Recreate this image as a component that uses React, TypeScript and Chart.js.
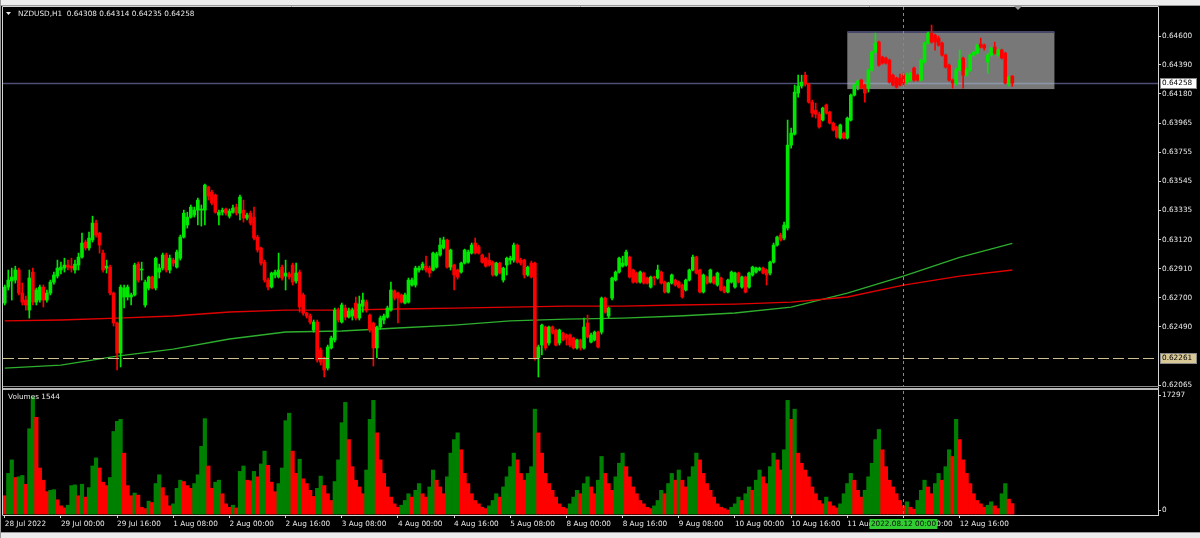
import React, { useEffect, useRef } from "react";
import { Chart, registerables } from "chart.js";
Chart.register(...registerables);

const SYMBOL_TITLE = "NZDUSD,H1  0.64308 0.64314 0.64235 0.64258";
const VOLUME_TITLE = "Volumes 1544";

const OPEN = [
  0.62661, 0.62777, 0.62821, 0.62828, 0.62901, 0.62734, 0.62683, 0.62610, 0.62886, 0.62668, 0.62683, 0.62777, 0.62683, 0.62734, 0.62813, 0.62857,
  0.62901, 0.62915, 0.62937, 0.62929, 0.62901, 0.62937, 0.62995, 0.63104, 0.63061, 0.63119, 0.63242, 0.63169, 0.63024, 0.62915, 0.62922, 0.62734,
  0.62516, 0.62298, 0.62705, 0.62705, 0.62705, 0.62720, 0.62944, 0.62901, 0.62647, 0.62770, 0.62850, 0.62770, 0.62886, 0.62915, 0.63010, 0.62901,
  0.62973, 0.62922, 0.62987, 0.63140, 0.63228, 0.63285, 0.63300, 0.63336, 0.63336, 0.63336, 0.63503, 0.63467, 0.63446, 0.63300, 0.63321, 0.63344,
  0.63292, 0.63321, 0.63358, 0.63314, 0.63336, 0.63278, 0.63314, 0.63285, 0.63140, 0.63061, 0.62958, 0.62828, 0.62777, 0.62865, 0.62850, 0.62922,
  0.62857, 0.62872, 0.62937, 0.62821, 0.62886, 0.62720, 0.62588, 0.62567, 0.62465, 0.62523, 0.62320, 0.62262, 0.62189, 0.62335, 0.62393, 0.62610,
  0.62523, 0.62625, 0.62559, 0.62567, 0.62661, 0.62552, 0.62639, 0.62668, 0.62574, 0.62516, 0.62335, 0.62487, 0.62538, 0.62559, 0.62610, 0.62749,
  0.62734, 0.62720, 0.62661, 0.62668, 0.62792, 0.62792, 0.62901, 0.62915, 0.62929, 0.62915, 0.62901, 0.62922, 0.63010, 0.63061, 0.63119, 0.62922,
  0.62937, 0.62901, 0.62886, 0.62951, 0.62958, 0.63024, 0.63097, 0.63068, 0.63010, 0.62987, 0.62973, 0.62958, 0.62865, 0.62951, 0.62828, 0.62937,
  0.62973, 0.62973, 0.63082, 0.62973, 0.62973, 0.62865, 0.62951, 0.62951, 0.62262, 0.62356, 0.62487, 0.62371, 0.62487, 0.62465, 0.62371, 0.62443,
  0.62429, 0.62429, 0.62407, 0.62335, 0.62393, 0.62335, 0.62516, 0.62378, 0.62393, 0.62450, 0.62450, 0.62697, 0.62567, 0.62697, 0.62828, 0.62886,
  0.62929, 0.62937, 0.62995, 0.62901, 0.62879, 0.62813, 0.62879, 0.62843, 0.62777, 0.62850, 0.62843, 0.62886, 0.62813, 0.62741, 0.62806, 0.62828,
  0.62813, 0.62792, 0.62756, 0.62828, 0.62901, 0.62995, 0.62901, 0.62741, 0.62850, 0.62813, 0.62850, 0.62792, 0.62843, 0.62777, 0.62741, 0.62813,
  0.62777, 0.62879, 0.62777, 0.62850, 0.62777, 0.62865, 0.62886, 0.62901, 0.62915, 0.62901, 0.62879, 0.62958, 0.63082, 0.63155, 0.63133, 0.63206,
  0.63808, 0.63888, 0.64186, 0.64237, 0.64316, 0.64251, 0.64120, 0.64062, 0.64033, 0.63990, 0.64099, 0.64048, 0.63968, 0.63939, 0.63859, 0.63895,
  0.63859, 0.63990, 0.64171, 0.64244, 0.64280, 0.64244, 0.64222, 0.64353, 0.64483, 0.64556, 0.64447, 0.64440, 0.64425, 0.64316, 0.64295, 0.64295,
  0.64316, 0.64266, 0.64280, 0.64367, 0.64316, 0.64280, 0.64411, 0.64549, 0.64621, 0.64607, 0.64585, 0.64549, 0.64462, 0.64389, 0.64280, 0.64258,
  0.64353, 0.64440, 0.64316, 0.64353, 0.64462, 0.64476, 0.64542, 0.64534, 0.64411, 0.64462, 0.64520, 0.64462, 0.64498, 0.64476, 0.64258, 0.64308,
];

const HIGH = [
  0.62792, 0.62901, 0.62915, 0.62929, 0.62915, 0.62806, 0.62712, 0.62901, 0.62915, 0.62770, 0.62792, 0.62792, 0.62756, 0.62828, 0.62886, 0.62973,
  0.62958, 0.62987, 0.62973, 0.62987, 0.62973, 0.63024, 0.63169, 0.63119, 0.63176, 0.63292, 0.63264, 0.63176, 0.63046, 0.62973, 0.62937, 0.62741,
  0.62523, 0.62792, 0.62792, 0.62792, 0.62734, 0.62951, 0.62958, 0.62958, 0.62828, 0.62857, 0.62857, 0.62995, 0.62944, 0.63024, 0.63024, 0.63010,
  0.62987, 0.63046, 0.63155, 0.63336, 0.63321, 0.63373, 0.63358, 0.63424, 0.63373, 0.63525, 0.63510, 0.63482, 0.63453, 0.63336, 0.63351, 0.63351,
  0.63344, 0.63373, 0.63380, 0.63446, 0.63409, 0.63314, 0.63329, 0.63358, 0.63155, 0.63068, 0.62973, 0.62843, 0.62886, 0.62901, 0.63024, 0.62937,
  0.62973, 0.62886, 0.62951, 0.62951, 0.62901, 0.62734, 0.62595, 0.62581, 0.62538, 0.62538, 0.62335, 0.62269, 0.62356, 0.62421, 0.62625, 0.62625,
  0.62661, 0.62647, 0.62625, 0.62625, 0.62705, 0.62712, 0.62734, 0.62683, 0.62581, 0.62523, 0.62494, 0.62567, 0.62581, 0.62639, 0.62813, 0.62756,
  0.62741, 0.62727, 0.62734, 0.62843, 0.62843, 0.62929, 0.62929, 0.62958, 0.63002, 0.62929, 0.63031, 0.63031, 0.63133, 0.63140, 0.63126, 0.63053,
  0.62944, 0.62908, 0.62958, 0.63053, 0.63046, 0.63097, 0.63133, 0.63082, 0.63017, 0.62995, 0.63024, 0.62966, 0.62958, 0.62958, 0.62922, 0.62995,
  0.63002, 0.63097, 0.63090, 0.62987, 0.62980, 0.62929, 0.62966, 0.62958, 0.62356, 0.62509, 0.62494, 0.62494, 0.62494, 0.62472, 0.62472, 0.62450,
  0.62436, 0.62436, 0.62414, 0.62400, 0.62400, 0.62552, 0.62574, 0.62443, 0.62458, 0.62458, 0.62705, 0.62705, 0.62632, 0.62850, 0.62894, 0.62995,
  0.63002, 0.63046, 0.63002, 0.62908, 0.62886, 0.62894, 0.62886, 0.62850, 0.62857, 0.62857, 0.62937, 0.62894, 0.62821, 0.62813, 0.62872, 0.62835,
  0.62821, 0.62799, 0.62835, 0.62908, 0.63010, 0.63002, 0.62908, 0.62872, 0.62857, 0.62908, 0.62857, 0.62886, 0.62850, 0.62784, 0.62835, 0.62894,
  0.62886, 0.62886, 0.62857, 0.62857, 0.62886, 0.62929, 0.62922, 0.62922, 0.62922, 0.62908, 0.62966, 0.63097, 0.63148, 0.63169, 0.63249, 0.63990,
  0.63931, 0.64244, 0.64316, 0.64316, 0.64338, 0.64258, 0.64135, 0.64113, 0.64048, 0.64084, 0.64106, 0.64055, 0.63975, 0.63946, 0.63961, 0.63903,
  0.64012, 0.64179, 0.64251, 0.64280, 0.64287, 0.64251, 0.64360, 0.64491, 0.64621, 0.64563, 0.64454, 0.64447, 0.64433, 0.64324, 0.64302, 0.64324,
  0.64331, 0.64331, 0.64338, 0.64374, 0.64324, 0.64433, 0.64556, 0.64629, 0.64680, 0.64614, 0.64600, 0.64556, 0.64469, 0.64396, 0.64287, 0.64367,
  0.64498, 0.64447, 0.64367, 0.64469, 0.64491, 0.64542, 0.64585, 0.64542, 0.64476, 0.64520, 0.64556, 0.64505, 0.64505, 0.64483, 0.64309, 0.64314,
];

const LOW = [
  0.62647, 0.62756, 0.62683, 0.62806, 0.62720, 0.62647, 0.62610, 0.62552, 0.62647, 0.62647, 0.62668, 0.62632, 0.62668, 0.62720, 0.62799, 0.62843,
  0.62872, 0.62886, 0.62901, 0.62886, 0.62879, 0.62901, 0.62987, 0.63046, 0.63046, 0.63104, 0.63140, 0.63024, 0.62886, 0.62879, 0.62720, 0.62494,
  0.62175, 0.62197, 0.62625, 0.62683, 0.62647, 0.62712, 0.62813, 0.62828, 0.62632, 0.62756, 0.62763, 0.62756, 0.62843, 0.62901, 0.62886, 0.62879,
  0.62929, 0.62915, 0.62973, 0.63133, 0.63206, 0.63278, 0.63285, 0.63228, 0.63220, 0.63228, 0.63409, 0.63373, 0.63314, 0.63228, 0.63300, 0.63300,
  0.63278, 0.63314, 0.63300, 0.63264, 0.63249, 0.63264, 0.63228, 0.63119, 0.63031, 0.62937, 0.62813, 0.62756, 0.62770, 0.62843, 0.62843, 0.62828,
  0.62756, 0.62835, 0.62792, 0.62806, 0.62595, 0.62574, 0.62552, 0.62509, 0.62450, 0.62232, 0.62211, 0.62124, 0.62175, 0.62327, 0.62378, 0.62523,
  0.62516, 0.62538, 0.62552, 0.62538, 0.62538, 0.62538, 0.62595, 0.62595, 0.62450, 0.62204, 0.62262, 0.62472, 0.62509, 0.62552, 0.62603, 0.62683,
  0.62516, 0.62661, 0.62654, 0.62661, 0.62784, 0.62777, 0.62886, 0.62901, 0.62886, 0.62850, 0.62894, 0.62915, 0.63002, 0.63053, 0.62915, 0.62901,
  0.62756, 0.62835, 0.62879, 0.62944, 0.62951, 0.63017, 0.63017, 0.63017, 0.62951, 0.62922, 0.62929, 0.62857, 0.62857, 0.62872, 0.62813, 0.62865,
  0.62944, 0.62958, 0.62951, 0.62937, 0.62843, 0.62857, 0.62843, 0.62247, 0.62124, 0.62284, 0.62320, 0.62356, 0.62436, 0.62349, 0.62356, 0.62386,
  0.62356, 0.62342, 0.62327, 0.62327, 0.62320, 0.62327, 0.62407, 0.62371, 0.62386, 0.62335, 0.62436, 0.62588, 0.62552, 0.62683, 0.62821, 0.62879,
  0.62922, 0.62929, 0.62843, 0.62806, 0.62806, 0.62806, 0.62799, 0.62799, 0.62770, 0.62792, 0.62835, 0.62799, 0.62734, 0.62734, 0.62799, 0.62784,
  0.62770, 0.62697, 0.62749, 0.62821, 0.62894, 0.62872, 0.62734, 0.62734, 0.62799, 0.62806, 0.62799, 0.62784, 0.62749, 0.62734, 0.62734, 0.62806,
  0.62770, 0.62806, 0.62770, 0.62734, 0.62770, 0.62857, 0.62879, 0.62894, 0.62872, 0.62792, 0.62865, 0.62951, 0.63075, 0.63111, 0.63119, 0.63191,
  0.63786, 0.63881, 0.64157, 0.64222, 0.64237, 0.64113, 0.64012, 0.64004, 0.63931, 0.63983, 0.64033, 0.63961, 0.63910, 0.63859, 0.63852, 0.63852,
  0.63852, 0.63983, 0.64164, 0.64208, 0.64215, 0.64120, 0.64193, 0.64345, 0.64476, 0.64382, 0.64396, 0.64396, 0.64258, 0.64237, 0.64222, 0.64237,
  0.64237, 0.64251, 0.64273, 0.64273, 0.64273, 0.64273, 0.64404, 0.64542, 0.64549, 0.64498, 0.64527, 0.64454, 0.64367, 0.64273, 0.64222, 0.64244,
  0.64345, 0.64222, 0.64309, 0.64345, 0.64454, 0.64469, 0.64513, 0.64498, 0.64331, 0.64454, 0.64469, 0.64454, 0.64433, 0.64251, 0.64237, 0.64235,
];

const CLOSE = [
  0.62777, 0.62828, 0.62850, 0.62901, 0.62734, 0.62668, 0.62647, 0.62843, 0.62668, 0.62756, 0.62777, 0.62683, 0.62734, 0.62813, 0.62865, 0.62915,
  0.62922, 0.62937, 0.62922, 0.62915, 0.62944, 0.62995, 0.63097, 0.63061, 0.63133, 0.63242, 0.63155, 0.63082, 0.62901, 0.62929, 0.62734, 0.62516,
  0.62298, 0.62777, 0.62770, 0.62777, 0.62720, 0.62937, 0.62828, 0.62908, 0.62813, 0.62850, 0.62770, 0.62987, 0.62915, 0.63010, 0.62901, 0.62987,
  0.62951, 0.63031, 0.63140, 0.63314, 0.63285, 0.63358, 0.63336, 0.63409, 0.63344, 0.63518, 0.63438, 0.63387, 0.63321, 0.63321, 0.63336, 0.63314,
  0.63329, 0.63351, 0.63314, 0.63431, 0.63278, 0.63300, 0.63242, 0.63133, 0.63046, 0.62951, 0.62828, 0.62777, 0.62879, 0.62886, 0.62901, 0.62843,
  0.62879, 0.62850, 0.62813, 0.62879, 0.62632, 0.62588, 0.62567, 0.62523, 0.62523, 0.62247, 0.62232, 0.62175, 0.62342, 0.62407, 0.62610, 0.62538,
  0.62647, 0.62559, 0.62603, 0.62610, 0.62552, 0.62654, 0.62683, 0.62610, 0.62465, 0.62335, 0.62487, 0.62552, 0.62567, 0.62625, 0.62756, 0.62697,
  0.62697, 0.62668, 0.62720, 0.62828, 0.62828, 0.62915, 0.62915, 0.62944, 0.62901, 0.62879, 0.63024, 0.63017, 0.63082, 0.63119, 0.62922, 0.63046,
  0.62865, 0.62850, 0.62951, 0.63046, 0.63031, 0.63082, 0.63024, 0.63024, 0.62958, 0.62929, 0.62937, 0.62865, 0.62951, 0.62879, 0.62915, 0.62987,
  0.62987, 0.63082, 0.62958, 0.62951, 0.62865, 0.62922, 0.62850, 0.62262, 0.62342, 0.62501, 0.62335, 0.62487, 0.62443, 0.62356, 0.62465, 0.62393,
  0.62407, 0.62356, 0.62335, 0.62393, 0.62335, 0.62487, 0.62414, 0.62429, 0.62450, 0.62342, 0.62697, 0.62595, 0.62625, 0.62843, 0.62886, 0.62987,
  0.62951, 0.63031, 0.62850, 0.62813, 0.62813, 0.62886, 0.62806, 0.62806, 0.62850, 0.62843, 0.62901, 0.62806, 0.62741, 0.62806, 0.62865, 0.62792,
  0.62777, 0.62705, 0.62828, 0.62901, 0.62995, 0.62879, 0.62741, 0.62865, 0.62806, 0.62901, 0.62806, 0.62879, 0.62756, 0.62741, 0.62828, 0.62886,
  0.62879, 0.62813, 0.62850, 0.62741, 0.62879, 0.62922, 0.62915, 0.62915, 0.62879, 0.62865, 0.62958, 0.63082, 0.63140, 0.63119, 0.63228, 0.63808,
  0.63895, 0.64193, 0.64237, 0.64266, 0.64251, 0.64120, 0.64041, 0.64033, 0.63939, 0.64077, 0.64041, 0.63968, 0.63917, 0.63866, 0.63954, 0.63859,
  0.64004, 0.64171, 0.64244, 0.64273, 0.64222, 0.64186, 0.64353, 0.64483, 0.64549, 0.64389, 0.64404, 0.64404, 0.64266, 0.64244, 0.64229, 0.64244,
  0.64258, 0.64316, 0.64331, 0.64280, 0.64280, 0.64425, 0.64549, 0.64621, 0.64556, 0.64556, 0.64534, 0.64462, 0.64374, 0.64280, 0.64258, 0.64353,
  0.64425, 0.64316, 0.64353, 0.64462, 0.64483, 0.64534, 0.64520, 0.64513, 0.64462, 0.64513, 0.64476, 0.64498, 0.64440, 0.64258, 0.64302, 0.64258,
];

const VOLUME = [
  2700, 6000, 8000, 5400, 5500, 5700, 4400, 12600, 17297, 14300, 6800, 5000, 3300, 3500, 3600, 2100,
  1200, 900, 1300, 4200, 4300, 2700, 4400, 2500, 3900, 7100, 8300, 6800, 4700, 4200, 5400, 12200,
  13700, 14000, 9000, 4200, 2700, 3100, 2800, 1000, 800, 1900, 1700, 4500, 5800, 3900, 2700, 1200,
  1500, 3800, 5000, 4800, 4200, 3800, 4500, 5800, 10000, 14100, 7100, 3800, 4700, 5000, 3000, 1500,
  1000, 1300, 900, 6300, 7100, 5000, 4900, 6300, 5500, 7400, 9300, 7200, 4700, 3300, 4500, 6800,
  13800, 14900, 9300, 6000, 8100, 5200, 4500, 3500, 2600, 3800, 5600, 4200, 3000, 2000, 4800, 8000,
  13500, 16500, 11000, 7000, 5000, 4000, 3000, 6500, 14000, 16800, 12000, 8000, 6000, 4000, 2500, 1500,
  1000, 1300, 2000, 3000, 2500, 3500, 4500, 3000, 2500, 4000, 6500, 5000, 4000, 3000, 5500, 9000,
  11000, 12000, 9500, 6000, 4500, 3000, 2000, 1500, 1000, 800, 1200, 2000, 3000, 2500, 4000, 5500,
  7000, 9000, 8000, 6000, 5000, 6000, 7000, 15500, 12000, 9000, 6000, 4500, 3500, 2500, 1500, 1000,
  800, 1500, 2500, 3500, 3000, 4500, 5500, 4000, 3000, 5000, 8500, 6000, 4500, 3500, 5500, 7500,
  9000, 7000, 5500, 4000, 3000, 2000, 1500, 1000, 800, 1200, 2000, 3500, 3000, 4500, 6000, 5000,
  6500, 5000, 4000, 5500, 7000, 9000, 8000, 6000, 4500, 3500, 2500, 1500, 1000, 800, 600, 1000,
  1500, 2500, 2000, 3000, 4000, 3500, 5000, 6500, 5500, 4500, 7000, 9000, 8000, 6500, 9500, 16800,
  14000, 15500, 9000, 7500, 6500, 5500, 4000, 3000, 2000, 1500, 2500, 1800, 1200, 900, 1500, 3000,
  4500, 6000, 5000, 3500, 2500, 3500, 5500, 7500, 11000, 12500, 9500, 7000, 5000, 4000, 3000, 2000,
  1200, 1800, 1000, 700, 2000, 3500, 5000, 4000, 3000, 4500, 6000, 5000, 7000, 9500, 8500, 14000,
  11000, 8000, 6000, 4500, 3000, 2000, 1500, 1000, 1300, 1800, 1200, 800, 3000, 4500, 2200, 1544,
];

const TICK_INDEX = [0, 16, 32, 48, 64, 80, 96, 112, 128, 144, 160, 176, 192, 208, 224, 240, 256, 272];
const TICK_LABELS = [
  "28 Jul 2022", "29 Jul 00:00", "29 Jul 16:00", "1 Aug 08:00", "2 Aug 00:00", "2 Aug 16:00",
  "3 Aug 08:00", "4 Aug 00:00", "4 Aug 16:00", "5 Aug 08:00", "8 Aug 00:00", "8 Aug 16:00",
  "9 Aug 08:00", "10 Aug 00:00", "10 Aug 16:00", "11 Aug 08:00", "12 Aug 00:00", "12 Aug 16:00",
];
const PRICE_TICKS = [0.646, 0.6439, 0.6418, 0.63965, 0.63755, 0.63545, 0.63335, 0.6312, 0.6291, 0.627, 0.6249, 0.62065];
const VOLUME_TICKS = [17297, 0];

const MA_INDEX = [0, 16, 32, 48, 64, 80, 96, 112, 128, 144, 160, 176, 192, 208, 224, 240, 256, 272, 287];
const MA_SLOW = [0.62531, 0.62538, 0.62552, 0.62567, 0.62596, 0.6261, 0.6261, 0.62618, 0.62625, 0.62632, 0.62639, 0.62639, 0.62647, 0.62654, 0.62668, 0.62705, 0.62792, 0.62857, 0.62901];
const MA_FAST = [0.62189, 0.62211, 0.62276, 0.62327, 0.624, 0.62451, 0.62458, 0.6248, 0.62501, 0.62531, 0.62545, 0.62552, 0.62567, 0.62589, 0.62632, 0.62734, 0.62857, 0.62993, 0.63095];

const LAST_PRICE = 0.64258;
const SUPPORT_PRICE = 0.62261;
const CROSSHAIR_INDEX = 256;
const CROSSHAIR_LABEL = "2022.08.12 00:00";
const BOX_FROM = 240;
const BOX_TO = 299;
const BOX_TOP = 0.64629;
const BOX_BOTTOM = 0.64215;

const TOTAL_SLOTS = 329;
const PRICE_MAX = 0.64811;
const PRICE_MIN = 0.61122;
const VOL_MAX = 74955;
const VOL_MIN = -148;

const FONT = '"DejaVu Sans", sans-serif';
const FS = 7.3;
const TXT = "#e8e8e8";
const FRAME = "#d4d4d4";
const BULL = "rgb(0,232,0)";
const BEAR = "rgb(255,0,0)";

const overlay = {
  id: "mt4overlay",
  beforeDraw(chart: any) {
    const { ctx, width, height } = chart;
    ctx.save();
    ctx.fillStyle = "#000";
    ctx.fillRect(0, 0, width, height);
    ctx.restore();
  },
  beforeDatasetsDraw(chart: any) {
    const { ctx, chartArea: a, scales } = chart;
    const x = scales.x, y = scales.y;
    ctx.save();
    const bx1 = x.getPixelForValue(BOX_FROM);
    const bx2 = x.getPixelForValue(BOX_TO);
    const by1 = y.getPixelForValue(BOX_TOP);
    const by2 = y.getPixelForValue(BOX_BOTTOM);
    ctx.fillStyle = "rgb(120,120,120)";
    ctx.fillRect(bx1, by1, bx2 - bx1, by2 - by1);
    ctx.strokeStyle = "rgb(70,70,105)";
    ctx.lineWidth = 2;
    ctx.beginPath();
    ctx.moveTo(bx1, by1);
    ctx.lineTo(bx2, by1);
    ctx.stroke();
    const py = Math.round(y.getPixelForValue(LAST_PRICE)) + 0.5;
    ctx.lineWidth = 1.4;
    ctx.strokeStyle = "rgb(78,78,118)";
    ctx.beginPath();
    ctx.moveTo(a.left, py);
    ctx.lineTo(bx1, py);
    ctx.moveTo(bx2, py);
    ctx.lineTo(a.right, py);
    ctx.stroke();
    ctx.strokeStyle = "rgb(140,150,170)";
    ctx.beginPath();
    ctx.moveTo(bx1, py);
    ctx.lineTo(bx2, py);
    ctx.stroke();
    ctx.restore();
  },
  afterDatasetsDraw(chart: any) {
    const { ctx, chartArea: a, scales } = chart;
    const x = scales.x, y = scales.y;
    ctx.save();
    const sy = Math.round(y.getPixelForValue(SUPPORT_PRICE)) + 0.5;
    ctx.strokeStyle = "rgb(205,192,140)";
    ctx.lineWidth = 1;
    ctx.setLineDash([11, 4]);
    ctx.beginPath();
    ctx.moveTo(a.left, sy);
    ctx.lineTo(a.right, sy);
    ctx.stroke();
    const cx = Math.round(x.getPixelForValue(CROSSHAIR_INDEX)) + 0.5;
    ctx.strokeStyle = "rgb(30,210,30)";
    ctx.lineWidth = 1;
    ctx.setLineDash([3, 3]);
    ctx.beginPath();
    ctx.moveTo(cx, a.top);
    ctx.lineTo(cx, a.bottom);
    ctx.stroke();
    ctx.restore();
  },
  afterDraw(chart: any) {
    const { ctx, chartArea: a, scales, width, height } = chart;
    const x = scales.x, y = scales.y;
    ctx.save();
    // pane separator
    ctx.fillStyle = "#000";
    ctx.fillRect(a.left, 386, a.right - a.left, 4);
    ctx.fillStyle = "#8c8c8c";
    ctx.fillRect(a.left - 1, 386, a.right - a.left + 2, 1);
    ctx.fillStyle = "#b8b8b8";
    ctx.fillRect(a.left - 1, 388, a.right - a.left + 2, 2);
    // window strips
    ctx.fillStyle = "#ececec";
    ctx.fillRect(0, 0, width, 5);
    ctx.fillRect(0, 532, width, height - 532);
    ctx.fillStyle = "#9a9a9a";
    ctx.fillRect(0, 532, width, 1);
    ctx.fillRect(0, 5, width, 1);
    ctx.fillRect(0, 0, 1, height);
    // frame
    ctx.strokeStyle = FRAME;
    ctx.lineWidth = 1;
    ctx.beginPath();
    ctx.moveTo(a.left - 0.5, 6.5);
    ctx.lineTo(a.right + 0.5, 6.5);
    ctx.moveTo(a.left - 0.5, 6.5);
    ctx.lineTo(a.left - 0.5, a.bottom + 0.5);
    ctx.stroke();
    // chart shift marker
    ctx.fillStyle = "#9a9a9a";
    ctx.beginPath();
    ctx.moveTo(1014, 6);
    ctx.lineTo(1022, 6);
    ctx.lineTo(1018, 10);
    ctx.closePath();
    ctx.fill();
    // titles
    ctx.font = `${FS}px ${FONT}`;
    ctx.textBaseline = "middle";
    ctx.textAlign = "left";
    ctx.fillStyle = TXT;
    ctx.beginPath();
    ctx.moveTo(6, 12);
    ctx.lineTo(11, 12);
    ctx.lineTo(8.5, 15);
    ctx.closePath();
    ctx.fill();
    ctx.fillText(SYMBOL_TITLE, 18, 14);
    ctx.fillText(VOLUME_TITLE, 8, 397);
    // volume axis labels
    const vLabelY = [395, 510];
    VOLUME_TICKS.forEach((v, k) => {
      ctx.fillStyle = FRAME;
      ctx.fillRect(a.right, vLabelY[k], 3, 1);
      ctx.fillStyle = TXT;
      ctx.fillText(String(v), a.right + 4, vLabelY[k] + 0.5);
    });
    // price label boxes
    const drawBox = (price: number, bg: string) => {
      const py = Math.round(y.getPixelForValue(price));
      ctx.fillStyle = bg;
      ctx.fillRect(a.right + 2, py - 5, 37, 11);
      ctx.strokeStyle = "#888";
      ctx.strokeRect(a.right + 2.5, py - 4.5, 36, 10);
      ctx.fillStyle = "#000";
      ctx.fillText(price.toFixed(5), a.right + 4, py + 0.5);
    };
    drawBox(LAST_PRICE, "#ffffff");
    drawBox(SUPPORT_PRICE, "rgb(216,200,150)");
    // crosshair time label
    const cx = x.getPixelForValue(CROSSHAIR_INDEX);
    ctx.fillStyle = "rgb(50,205,50)";
    ctx.fillRect(cx - 34, 519, 68, 10);
    ctx.fillStyle = "#0a0a0a";
    ctx.textAlign = "center";
    ctx.fillText(CROSSHAIR_LABEL, cx, 524);
    ctx.restore();
  },
};

export default function App() {
  const ref = useRef<HTMLCanvasElement | null>(null);
  useEffect(() => {
    const canvas = ref.current;
    if (!canvas) return;
    const labels = Array.from({ length: TOTAL_SLOTS }, (_, i) => {
      const k = TICK_INDEX.indexOf(i);
      return k >= 0 ? TICK_LABELS[k] : "";
    });
    const up = CLOSE.map((c, i) => c >= OPEN[i]);
    const candleColors = up.map((u) => (u ? BULL : BEAR));
    const maSeries = (vals: number[]) => {
      const arr: (number | null)[] = new Array(OPEN.length).fill(null);
      MA_INDEX.forEach((idx, k) => {
        arr[idx] = vals[k];
      });
      return arr;
    };
    const volColors = VOLUME.map((v, i) => (i > 0 && v > VOLUME[i - 1] ? "rgb(0,128,0)" : "rgb(255,0,0)"));
    const font = { family: FONT, size: FS };
    const chart = new Chart(canvas, {
      type: "bar",
      data: {
        labels,
        datasets: [
          {
            type: "bar",
            label: "body",
            data: OPEN.map((o, i) => [Math.min(o, CLOSE[i]), Math.max(o, CLOSE[i])]),
            backgroundColor: candleColors,
            barThickness: 3,
            grouped: false,
            minBarLength: 1,
            yAxisID: "y",
            order: 1,
          } as any,
          {
            type: "bar",
            label: "wick",
            data: LOW.map((l, i) => [l, HIGH[i]]),
            backgroundColor: candleColors,
            barThickness: 1,
            grouped: false,
            yAxisID: "y",
            order: 2,
          } as any,
          {
            type: "line",
            label: "MA slow",
            data: maSeries(MA_SLOW),
            borderColor: "rgb(225,0,0)",
            borderWidth: 1.3,
            pointRadius: 0,
            spanGaps: true,
            tension: 0,
            yAxisID: "y",
            order: 3,
          } as any,
          {
            type: "line",
            label: "MA fast",
            data: maSeries(MA_FAST),
            borderColor: "rgb(45,175,45)",
            borderWidth: 1.3,
            pointRadius: 0,
            spanGaps: true,
            tension: 0,
            yAxisID: "y",
            order: 4,
          } as any,
          {
            type: "bar",
            label: "Volumes",
            data: VOLUME,
            backgroundColor: volColors,
            barPercentage: 1,
            categoryPercentage: 1,
            grouped: false,
            yAxisID: "yv",
            order: 5,
          } as any,
        ],
      },
      options: {
        animation: false,
        responsive: false,
        devicePixelRatio: 1,
        events: [],
        layout: { padding: { left: 3, top: 7, right: 0, bottom: 0 } },
        plugins: { legend: { display: false }, tooltip: { enabled: false }, title: { display: false } },
        scales: {
          x: {
            type: "category",
            offset: true,
            grid: { display: true, drawOnChartArea: false, drawTicks: true, tickLength: 3, color: FRAME, offset: false },
            border: { display: true, color: FRAME, width: 1 },
            ticks: { color: TXT, font, autoSkip: false, maxRotation: 0, minRotation: 0, align: "start", padding: 2 },
            afterBuildTicks: (s: any) => {
              s.ticks = TICK_INDEX.map((v) => ({ value: v }));
            },
            afterFit: (s: any) => {
              s.height = 23;
            },
          },
          y: {
            type: "linear",
            position: "right",
            min: PRICE_MIN,
            max: PRICE_MAX,
            grid: { drawOnChartArea: false, drawTicks: true, tickLength: 3, color: FRAME },
            border: { display: true, color: FRAME, width: 1 },
            ticks: { color: TXT, font, padding: 1, autoSkip: false, callback: (v: any) => Number(v).toFixed(5) },
            afterBuildTicks: (s: any) => {
              s.ticks = PRICE_TICKS.map((v) => ({ value: v }));
            },
            afterFit: (s: any) => {
              s.width = 42;
            },
          },
          yv: { type: "linear", display: false, min: VOL_MIN, max: VOL_MAX },
        },
      } as any,
      plugins: [overlay],
    });
    return () => chart.destroy();
  }, []);
  return (
    <div style={{ position: "absolute", left: 0, top: 0, width: 1200, height: 538, background: "#000" }}>
      <canvas ref={ref} width={1200} height={538} style={{ display: "block", width: 1200, height: 538 }} />
    </div>
  );
}
